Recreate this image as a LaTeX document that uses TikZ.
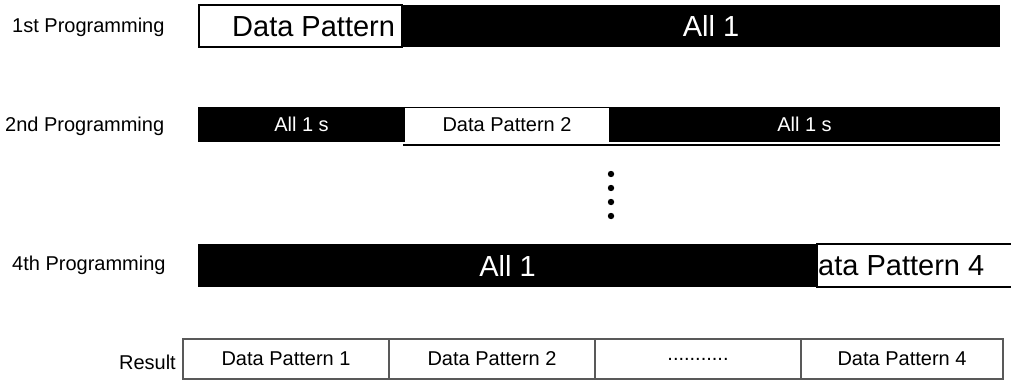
\documentclass[tikz,border=0pt]{standalone}
\usepackage{fontspec}
\setmainfont{Liberation Sans}
\usepackage{tikz}
\usetikzlibrary{positioning}
\tikzset{
  rowlabel/.style={anchor=west, inner sep=0pt, font=\fontsize{20}{24}\selectfont},
  onesbar/.style={fill=black, text=white, anchor=north west, inner sep=0pt, outer sep=0pt},
  databar/.style={fill=white, anchor=north west, inner sep=0pt, outer sep=0pt},
  bigtext/.style={font=\fontsize{29}{34}\selectfont},
  smalltext/.style={font=\fontsize{20}{24}\selectfont},
  resultcell/.style={draw=black!65, line width=1.3pt, minimum height=40pt, inner sep=0pt, outer sep=0pt, font=\fontsize{20}{24}\selectfont, anchor=north west},
}
\begin{document}
\begin{tikzpicture}[x=1pt, y=-1pt]
  \useasboundingbox (0,0) rectangle (1011,380);

  % 1st programming
  \node[rowlabel] (lab1) at (12,27) {1st Programming};
  \node[databar, draw=black, line width=2pt, minimum width=203pt, minimum height=42pt] (p1data) at (199,5) {};
  \node[onesbar, bigtext, minimum width=598pt, minimum height=42pt] (p1ones) at (402,5) {\hspace*{20pt}All 1};
  \node[anchor=west, inner sep=0pt, bigtext] (p1text) at (232,27) {Data Pattern};

  % 2nd programming
  \node[rowlabel] (lab2) at (5,126) {2nd Programming};
  \node[onesbar, smalltext, minimum width=207pt, minimum height=35pt] (p2left) at (198,107) {All 1 s};
  \node[databar, smalltext, minimum width=204pt, minimum height=35pt] (p2data) at (405,107) {Data Pattern 2};
  \node[onesbar, smalltext, minimum width=391pt, minimum height=35pt] (p2right) at (609,107) {All 1 s};
  \draw[line width=0.6pt] (p2data.north west) -- (p2data.north east);
  \draw[line width=2pt] ([xshift=-2pt,yshift=-3pt]p2data.south west) -- ([yshift=-3pt]p2right.south east);

  % skipped rows
  \foreach \y in {174,188,202,216}
    \fill (611,\y) circle (3.2pt);

  % 4th programming
  \node[rowlabel] (lab4) at (12,265) {4th Programming};
  \node[databar, draw=black, line width=2pt, minimum width=220pt, minimum height=43pt] (p4data) at (817,244) {};
  \node[anchor=west, inner sep=0pt, bigtext] (p4text) at (818,266) {ata Pattern 4};
  \node[onesbar, bigtext, minimum width=619pt, minimum height=43pt] (p4ones) at (198,244) {All 1};

  % result
  \node[resultcell, minimum width=206pt] (res1) at (183,339) {Data Pattern 1};
  \node[resultcell, minimum width=206pt, right=0pt of res1] (res2) {Data Pattern 2};
  \node[resultcell, minimum width=206pt, right=0pt of res2] (res3) {...........};
  \node[resultcell, minimum width=202pt, right=0pt of res3] (res4) {Data Pattern 4};
  \node[smalltext, inner sep=0pt, anchor=east] (reslab) at ([xshift=-7pt,yshift=-3pt]res1.west) {Result};
\end{tikzpicture}
\end{document}
